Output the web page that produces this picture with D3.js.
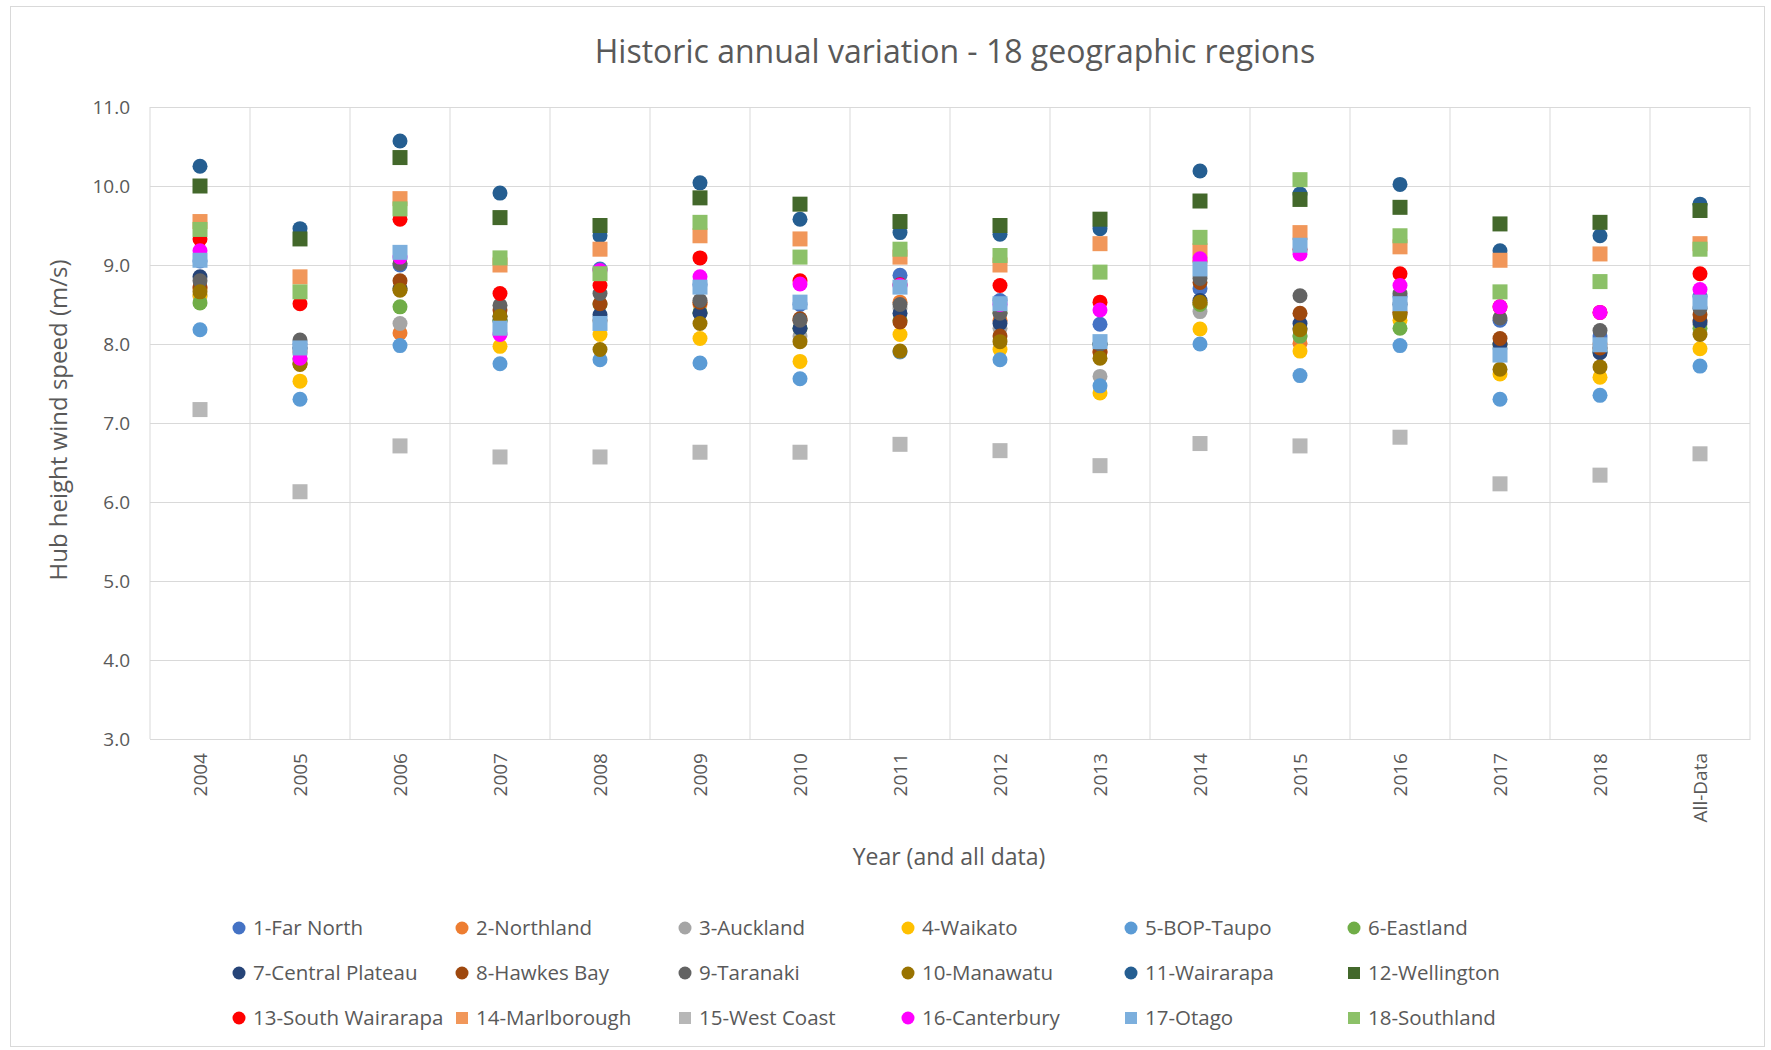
<!DOCTYPE html>
<html>
<head>
<meta charset="utf-8">
<script src="https://cdn.jsdelivr.net/npm/d3@7"></script>
<style>
  body { margin: 0; background: #fff; overflow: hidden; }
  svg { display: block; }
  text { font-family: "Open Sans", Lato, sans-serif; fill: #595959; }
</style>
</head>
<body>
<svg id="chart" width="1771" height="1050"></svg>
<script>
// categories on the x axis
const years = ["2004","2005","2006","2007","2008","2009","2010","2011","2012","2013","2014","2015","2016","2017","2018","All-Data"]
const yTicks = [3, 4, 5, 6, 7, 8, 9, 10, 11]

// one array per region, values in m/s
const farNorth       = [9.05, 8.00, 9.00, 8.30, 8.95, 8.75, 8.50, 8.87, 8.55, 8.25, 8.70, 8.20, 8.60, 8.30, 8.10, 8.60]
const northland      = [8.70, 7.90, 8.14, 8.30, 8.30, 8.50, 8.30, 8.53, 8.30, 7.90, 8.50, 8.01, 8.40, 8.00, 8.00, 8.30]
const auckland       = [8.60, 7.95, 8.26, 8.30, 8.30, 8.40, 8.10, 8.45, 8.20, 7.59, 8.41, 8.10, 8.40, 7.95, 7.95, 8.25]
const waikato        = [8.62, 7.53, 8.70, 7.97, 8.12, 8.07, 7.78, 8.12, 7.93, 7.38, 8.19, 7.91, 8.30, 7.62, 7.58, 7.94]
const bopTaupo       = [8.18, 7.30, 7.98, 7.75, 7.80, 7.76, 7.56, 7.90, 7.80, 7.47, 8.00, 7.60, 7.98, 7.30, 7.35, 7.72]
const eastland       = [8.52, 7.80, 8.47, 8.30, 8.50, 8.40, 8.20, 8.30, 8.40, 8.00, 8.50, 8.10, 8.20, 8.00, 7.90, 8.20]
const centralPlateau = [8.85, 7.95, 8.70, 8.35, 8.37, 8.39, 8.20, 8.39, 8.26, 8.00, 8.55, 8.26, 8.50, 8.00, 7.89, 8.28]
const hawkesBay      = [8.72, 7.75, 8.80, 8.43, 8.51, 8.53, 8.32, 8.28, 8.10, 7.90, 8.78, 8.39, 8.40, 8.07, 7.95, 8.37]
const taranaki       = [8.80, 8.05, 9.02, 8.49, 8.64, 8.55, 8.30, 8.50, 8.39, 8.00, 8.83, 8.61, 8.64, 8.33, 8.17, 8.45]
const manawatu       = [8.66, 7.74, 8.68, 8.35, 7.93, 8.26, 8.03, 7.91, 8.03, 7.82, 8.53, 8.18, 8.37, 7.68, 7.71, 8.12]
const wairarapa      = [10.25, 9.46, 10.57, 9.91, 9.37, 10.04, 9.58, 9.41, 9.39, 9.46, 10.19, 9.90, 10.02, 9.18, 9.37, 9.77]
const wellington     = [10.00, 9.33, 10.36, 9.60, 9.50, 9.85, 9.77, 9.55, 9.50, 9.58, 9.81, 9.83, 9.73, 9.52, 9.54, 9.69]
const southWairarapa = [9.33, 8.51, 9.58, 8.64, 8.74, 9.09, 8.80, 8.75, 8.74, 8.53, 9.05, 9.20, 8.89, 8.47, 8.40, 8.89]
const marlborough    = [9.55, 8.85, 9.84, 9.00, 9.20, 9.37, 9.33, 9.10, 9.00, 9.27, 9.18, 9.41, 9.23, 9.06, 9.14, 9.27]
const westCoast      = [7.17, 6.13, 6.71, 6.57, 6.57, 6.63, 6.63, 6.73, 6.65, 6.46, 6.74, 6.71, 6.82, 6.23, 6.34, 6.61]
const canterbury     = [9.18, 7.82, 9.10, 8.12, 8.93, 8.85, 8.76, 8.74, 8.50, 8.43, 9.08, 9.14, 8.74, 8.47, 8.40, 8.69]
const otago          = [9.06, 7.95, 9.16, 8.20, 8.26, 8.72, 8.53, 8.72, 8.51, 8.03, 8.95, 9.25, 8.51, 7.86, 7.99, 8.53]
const southland      = [9.45, 8.66, 9.71, 9.09, 8.89, 9.54, 9.10, 9.20, 9.12, 8.91, 9.35, 10.08, 9.37, 8.66, 8.79, 9.20]

const regionNames = ["1-Far North","2-Northland","3-Auckland","4-Waikato","5-BOP-Taupo","6-Eastland",
  "7-Central Plateau","8-Hawkes Bay","9-Taranaki","10-Manawatu","11-Wairarapa","12-Wellington",
  "13-South Wairarapa","14-Marlborough","15-West Coast","16-Canterbury","17-Otago","18-Southland"]
const regionValues = [farNorth, northland, auckland, waikato, bopTaupo, eastland, centralPlateau, hawkesBay,
  taranaki, manawatu, wairarapa, wellington, southWairarapa, marlborough, westCoast, canterbury, otago, southland]
const regionColors = ["#4472C4","#ED7D31","#A5A5A5","#FFC000","#5B9BD5","#70AD47","#264478","#9E480E",
  "#636363","#997300","#255E91","#43682B","#FF0000","#F1975A","#B7B7B7","#FF00FF","#7CAFDD","#8CC168"]
const regionShapes = ["circle","circle","circle","circle","circle","circle","circle","circle","circle","circle",
  "circle","square","circle","square","square","circle","square","square"]

const series = regionNames.map((name, i) => ({
  name: name,
  color: regionColors[i],
  shape: regionShapes[i],
  points: regionValues[i].map((v, j) => ({ year: years[j], value: v }))
}))

const svg = d3.select("#chart")
const width = +svg.attr("width")
const height = +svg.attr("height")

svg.append("rect")
  .attr("x", 10.5).attr("y", 6.5)
  .attr("width", 1754).attr("height", 1040)
  .attr("fill", "#fff")
  .attr("stroke", "#D9D9D9")

const margin = { top: 107, right: 21, bottom: 311, left: 150 }
const innerWidth = width - margin.left - margin.right
const innerHeight = height - margin.top - margin.bottom

const xScale = d3.scaleBand().domain(years).range([0, innerWidth]).padding(0)
const yScale = d3.scaleLinear().domain([3, 11]).range([innerHeight, 0])

const g = svg.append("g").attr("transform", `translate(${margin.left},${margin.top})`)

// horizontal gridlines
g.append("g")
  .call(d3.axisLeft(yScale).tickValues(yTicks).tickSize(-innerWidth).tickFormat(""))
  .call(a => a.select(".domain").remove())
  .selectAll("line").attr("stroke", "#D9D9D9")

// vertical lines between categories
g.append("g").selectAll("line")
  .data(years.concat(["end"]))
  .enter().append("line")
  .attr("x1", (d, i) => i < years.length ? xScale(d) : innerWidth)
  .attr("x2", (d, i) => i < years.length ? xScale(d) : innerWidth)
  .attr("y1", 0).attr("y2", innerHeight)
  .attr("stroke", "#D9D9D9")

// y axis labels
const yAxisG = g.append("g")
  .call(d3.axisLeft(yScale).tickValues(yTicks).tickSize(0).tickPadding(20).tickFormat(d3.format(".1f")))
yAxisG.select(".domain").remove()
yAxisG.selectAll("text").style("font-size", "19px").attr("fill", "#595959")

// x axis labels (rotated)
const xAxisG = g.append("g")
  .attr("transform", `translate(0,${innerHeight})`)
  .call(d3.axisBottom(xScale).tickSize(0))
xAxisG.select(".domain").attr("stroke", "#D9D9D9")
xAxisG.selectAll(".tick text")
  .style("font-size", "19px")
  .attr("fill", "#595959")
  .style("text-anchor", "end")
  .attr("transform", "rotate(-90)")
  .attr("x", -14).attr("y", 0).attr("dy", "0.35em")

// markers, drawn in series order like the original
const layers = g.selectAll("g.layer")
  .data(series)
  .enter().append("g")
  .attr("class", "layer")
  .attr("fill", d => d.color)

const cx = d => xScale(d.year) + xScale.bandwidth() / 2
layers.filter(d => d.shape === "circle").selectAll("circle")
  .data(d => d.points)
  .enter().append("circle")
  .attr("cx", cx)
  .attr("cy", d => yScale(d.value))
  .attr("r", 7.5)

layers.filter(d => d.shape === "square").selectAll("rect")
  .data(d => d.points)
  .enter().append("rect")
  .attr("x", d => cx(d) - 7.5)
  .attr("y", d => yScale(d.value) - 7.5)
  .attr("width", 15).attr("height", 15)

// titles
svg.append("text")
  .attr("x", 955).attr("y", 63)
  .attr("text-anchor", "middle")
  .style("font-size", "32px")
  .text("Historic annual variation - 18 geographic regions")

svg.append("text")
  .attr("transform", "translate(67,420) rotate(-90)")
  .attr("text-anchor", "middle")
  .style("font-size", "24px")
  .text("Hub height wind speed (m/s)")

svg.append("text")
  .attr("x", 949).attr("y", 865)
  .attr("text-anchor", "middle")
  .style("font-size", "23px")
  .text("Year (and all data)")

// legend: 6 columns x 3 rows
const legend = svg.append("g").selectAll("g")
  .data(series)
  .enter().append("g")
  .attr("transform", (d, i) => `translate(${239 + (i % 6) * 223},${928 + Math.floor(i / 6) * 45})`)

legend.filter(d => d.shape === "circle").append("circle")
  .attr("r", 6.5).attr("fill", d => d.color)
legend.filter(d => d.shape === "square").append("rect")
  .attr("x", -6).attr("y", -6).attr("width", 12).attr("height", 12)
  .attr("fill", d => d.color)
legend.append("text")
  .attr("x", 14).attr("dy", "0.35em")
  .style("font-size", "20.5px")
  .text(d => d.name)
</script>
</body>
</html>
